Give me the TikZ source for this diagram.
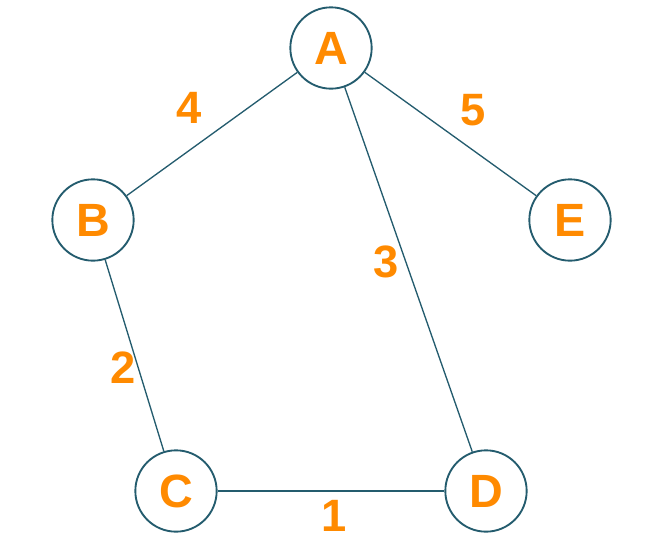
\documentclass[tikz,border=0pt]{standalone}
\usepackage{fontspec}
\setmainfont{Liberation Sans}
\usetikzlibrary{positioning}
\definecolor{grTeal}{HTML}{245C6E}
\definecolor{grOrange}{HTML}{FF8A00}

\begin{document}
\begin{tikzpicture}[x=0.75pt, y=-0.75pt,
    vertex/.style={circle, draw=grTeal, line width=1.4pt, fill=white,
      minimum size=61pt, inner sep=0pt, text=grOrange,
      font=\fontsize{35}{35}\selectfont\bfseries},
    weight/.style={text=grOrange, inner sep=0pt,
      font=\fontsize{34}{34}\selectfont\bfseries},
    edge/.style={draw=grTeal, line width=1pt}]
  \useasboundingbox (0,0) rectangle (661,557);
  % vertices
  \foreach \name/\x/\y in {A/331/48, B/93/220, E/570/220, C/176/491, D/486/491}
    \node[vertex] (\name) at (\x,\y) {\name};
  % edges
  \foreach \u/\v in {A/B, A/E, A/D, B/C, C/D}
    \draw[edge] (\u) -- (\v);
  % weights
  \foreach \w/\x/\y in {4/189/108, 5/473/110, 3/386/262, 2/123/368, 1/334/516}
    \node[weight] (w\w) at (\x,\y) {\w};
\end{tikzpicture}
\end{document}
